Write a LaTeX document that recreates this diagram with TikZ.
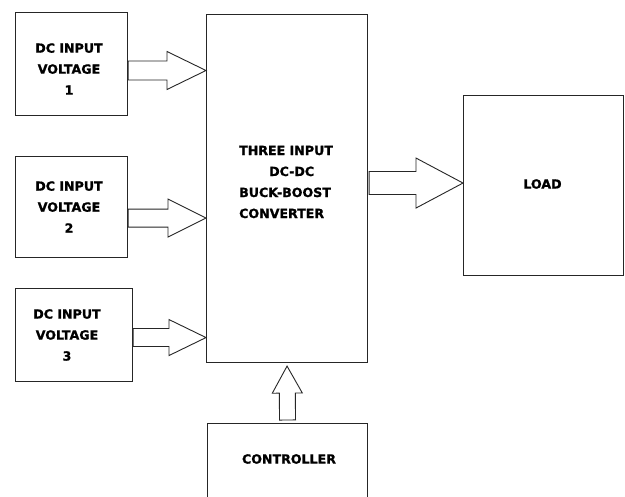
\documentclass[tikz,border=0pt]{standalone}
\usepackage{fontspec}
\setmainfont{DejaVu Sans}[BoldFeatures={FakeBold=1.2}]
\usetikzlibrary{calc}

% hollow block arrow: start, tip, shaft half-width, head half-width, head length
\newcommand\blockarrow[5]{%
  \path (#2) coordinate (ba-t) ($(#2)!#5!(#1)$) coordinate (ba-b) (#1) coordinate (ba-s);
  \draw[arrowline] ($(ba-s)!#3!90:(ba-t)$) -- ($(ba-b)!#3!90:(ba-t)$)
    -- ($(ba-b)!#4!90:(ba-t)$) -- (ba-t) -- ($(ba-b)!#4!-90:(ba-t)$)
    -- ($(ba-b)!#3!-90:(ba-t)$) -- ($(ba-s)!#3!-90:(ba-t)$) -- cycle;}

\begin{document}
\begin{tikzpicture}[x=1pt,y=-1pt,
  blk/.style={draw=black!85, line width=1.1pt, inner sep=0pt, anchor=north west},
  lbl/.style={font=\bfseries\fontsize{12.6}{21}\selectfont, align=center, inner sep=0pt, text=black},
  arrowline/.style={draw=black!85, line width=0.9pt, fill=white, line join=miter}]

\clip (0,0) rectangle (625,497);
\fill[white] (0,0) rectangle (625,497);

% blocks
\node[blk, minimum width=112pt, minimum height=103pt] (in1) at (15,12) {};
\node[blk, minimum width=112pt, minimum height=101pt] (in2) at (15,156) {};
\node[blk, minimum width=117pt, minimum height=93pt]  (in3) at (15,288) {};
\node[blk, minimum width=161pt, minimum height=348pt] (conv) at (206,14) {};
\node[blk, minimum width=160pt, minimum height=180pt] (load) at (463,95) {};
\node[blk, minimum width=160pt, minimum height=110pt] (ctrl) at (207,423) {};

% texts
\node[lbl] (t1) at (69,69) {DC INPUT\\VOLTAGE\\1};
\node[lbl] (t2) at (69,207) {DC INPUT\\VOLTAGE\\2};
\node[lbl] (t3) at (67,335) {DC INPUT\\VOLTAGE\\3};
\node[lbl, align=left, anchor=west] (tconv) at (239,182)
  {THREE INPUT\\\hspace*{30pt}DC-DC\\BUCK-BOOST\\CONVERTER};
\node[lbl] (tload) at (542.5,184) {LOAD};
\node[lbl] (tctrl) at (289,459) {CONTROLLER};

% arrow end points
\coordinate (s1) at ($(in1.north east)+(0,58.5)$);
\coordinate (e1) at (conv.west |- s1);
\coordinate (s2) at ($(in2.south east)+(0,-40)$);
\coordinate (e2) at (conv.west |- s2);
\coordinate (s3) at ($(in3.east)+(0,2.5)$);
\coordinate (e3) at (conv.west |- s3);
\coordinate (s4) at ($(conv.east)+(1,-5.5)$);
\coordinate (e4) at (load.west |- s4);
\coordinate (s5) at ($(ctrl.north)+(0,-3)$);
\coordinate (e5) at ($(conv.south)+(0,3)$);

\blockarrow{s1}{e1}{9.5pt}{19pt}{39pt}
\blockarrow{s2}{e2}{9pt}{19pt}{38pt}
\blockarrow{s3}{e3}{9pt}{18pt}{37pt}
\blockarrow{s4}{e4}{11.5pt}{25pt}{47pt}
\blockarrow{s5}{e5}{8pt}{15pt}{27pt}

\end{tikzpicture}
\end{document}
